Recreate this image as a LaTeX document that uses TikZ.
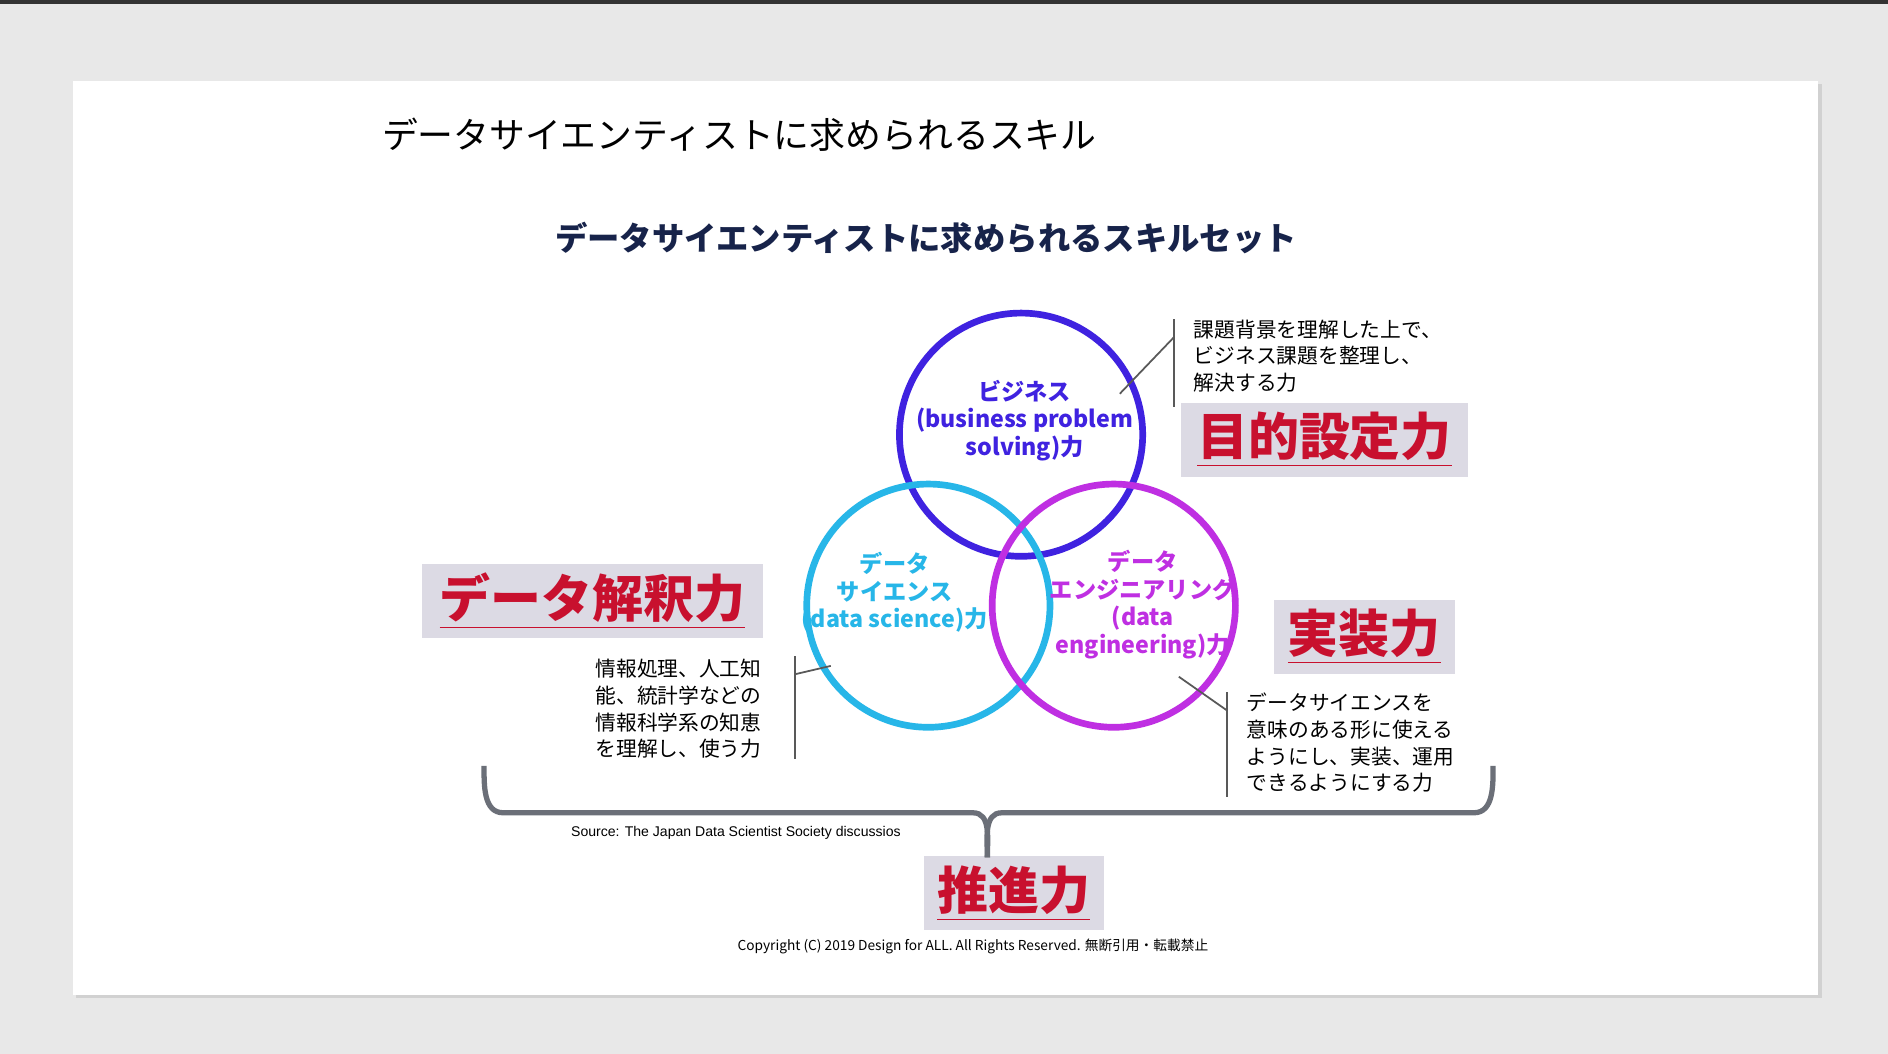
\documentclass[tikz,border=0pt]{standalone}
\usepackage{fontspec}
\setmainfont{Noto Sans CJK JP}
\newfontfamily\arialfont{Liberation Sans}
\definecolor{pagegray}{HTML}{E8E8E8}
\definecolor{navy}{HTML}{17234A}
\definecolor{bizcol}{HTML}{3F22E0}
\definecolor{scicol}{HTML}{27B6E8}
\definecolor{engcol}{HTML}{BF2FE2}
\definecolor{labelred}{HTML}{C8102E}
\definecolor{labelbg}{HTML}{DCDAE4}
\definecolor{bracecol}{HTML}{6B6F78}
\tikzset{
  ring/.style={line width=1.9pt},
  ringtext/.style={font=\fontsize{6.6}{7.8}\selectfont\bfseries, align=center},
  skill/.style={fill=labelbg, text=labelred, font=\fontsize{14.5}{16}\selectfont\bfseries,
    inner sep=0pt, minimum height=0.74cm},
  desc/.style={font=\fontsize{5.9}{7.6}\selectfont, align=left, anchor=north west, inner sep=0pt},
  leader/.style={gray!70!black, line width=0.5pt}
}
\newcommand{\redline}[1]{\underline{#1}}
\begin{document}
\begin{tikzpicture}[x=0.01204cm, y=-0.01204cm]
\useasboundingbox (0,0) rectangle (1568,875);
\fill[pagegray] (0,0) rectangle (1568,875);
\fill[black!80] (0,0) rectangle (1568,3);
% slide
\fill[black!18] (63,70) rectangle (1513,829);
\fill[white] (61,67) rectangle (1510,826);

% titles
\node[anchor=west, font=\fontsize{10.2}{12}\selectfont] (title) at (307,112)
  {データサイエンティストに求められるスキル};
\node[text=navy, font=\fontsize{9.2}{11}\selectfont\bfseries] (subtitle) at (769,198)
  {データサイエンティストに求められるスキルセット};

% circles
\draw[ring, bizcol] (848,361) circle (101);
\draw[ring, scicol] (771,503) circle (101);
\draw[ring, engcol] (925,503) circle (101);
\node[ringtext, text=bizcol] (biz) at (851,349) {ビジネス\\(business problem\\solving)力};
\node[ringtext, text=scicol] (sci) at (743,492) {データ\\サイエンス\\(data science)力};
\node[ringtext, text=engcol] (eng) at (949,502) {データ\\エンジニアリング\\(data\\engineering)力};

% skill labels
\node[skill, minimum width=238*0.01204cm] (goal) at (1100,365) {\redline{目的設定力}};
\node[skill, minimum width=283*0.01204cm] (interp) at (492,499) {\redline{データ解釈力}};
\node[skill, minimum width=150*0.01204cm] (impl) at (1133,529) {\redline{実装力}};
\node[skill, minimum width=150*0.01204cm] (drive) at (842,742) {\redline{推進力}};

% descriptions
\node[desc] (bizdesc) at (991,265) {課題背景を理解した上で、\\ビジネス課題を整理し、\\解決する力};
\node[desc] (scidesc) at (494,547) {情報処理、人工知\\能、統計学などの\\情報科学系の知恵\\を理解し、使う力};
\node[desc] (engdesc) at (1035,575) {データサイエンスを\\意味のある形に使える\\ようにし、実装、運用\\できるようにする力};

% leader lines
\coordinate (bizend) at (930,327);
\coordinate (sciend) at (690,553);
\coordinate (engend) at (979,562);
\draw[leader] (975,265) -- (975,338);
\draw[leader] (975,280) -- (bizend);
\draw[leader] (660,545) -- (660,630);
\draw[leader] (660,560) -- (sciend);
\draw[leader] (1019,575) -- (1019,662);
\draw[leader] (1019,590) -- (engend);

% brace
\draw[bracecol, line width=1.5pt] (402,636) to[out=-90,in=180] (418,675) -- (808,675)
  to[out=0,in=90] (820,712);
\draw[bracecol, line width=1.5pt] (820,712) to[out=90,in=180] (832,675) -- (1224,675)
  to[out=0,in=-90] (1240,636);

\node[anchor=west, font=\arialfont\fontsize{4.0}{5}\selectfont] (source) at (464,692)
  {Source: The Japan Data Scientist Society discussios};
\node[font=\fontsize{3.9}{5}\selectfont] (copyright) at (808,786)
  {Copyright (C) 2019 Design for ALL. All Rights Reserved. 無断引用・転載禁止};
\end{tikzpicture}
\end{document}
